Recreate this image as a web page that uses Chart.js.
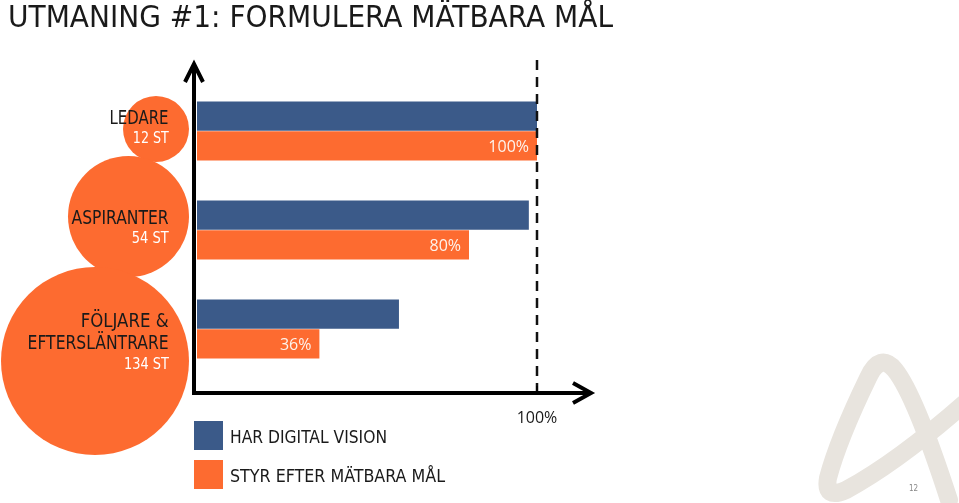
<!DOCTYPE html>
<html><head><meta charset="utf-8">
<script src="https://cdn.jsdelivr.net/npm/chart.js@4/dist/chart.umd.min.js"></script>
<style>
html,body{margin:0;padding:0;background:#fff;}
#wrap{position:relative;width:959px;height:503px;overflow:hidden;font-family:'DejaVu Sans Condensed','DejaVu Sans',sans-serif;}
#c{position:absolute;left:0;top:0;z-index:2;}
.circ{position:absolute;border-radius:50%;background:#fd6b30;z-index:1;}
.t{position:absolute;white-space:nowrap;z-index:3;line-height:1;}
.r{transform-origin:right center;text-align:right;}
.l{transform-origin:left center;}
.dark{color:#1a1a1a;}
.wh{color:#fff;}
.sq{position:absolute;width:29px;height:29px;z-index:3;}
</style></head><body>
<div id="wrap">
  <div class="circ" style="left:123px;top:96px;width:66px;height:66px"></div>
  <div class="circ" style="left:68px;top:156px;width:121px;height:121px"></div>
  <div class="circ" style="left:1px;top:267px;width:188px;height:188px"></div>
  <canvas id="c" width="959" height="503"></canvas>
</div>
<script>
const categories = ['LEDARE', 'ASPIRANTER', 'FÖLJARE & EFTERSLÄNTRARE'];
const categoryLines = [['LEDARE'], ['ASPIRANTER'], ['FÖLJARE &', 'EFTERSLÄNTRARE']];
const counts = ['12 ST', '54 ST', '134 ST'];
const seriesNames = ['HAR DIGITAL VISION', 'STYR EFTER MÄTBARA MÅL'];
const visionValues = [100, 97.6, 59.4];
const goalValues = [100, 80, 36];
const goalLabels = ['100%', '80%', '36%'];
const xTickLabels = ['100%'];
const xTickValues = [100];
const titleText = 'UTMANING #1: FORMULERA MÄTBARA MÅL';

const BLUE = '#3b5a89', ORANGE = '#fd6b30';
const wrap = document.getElementById('wrap');

function addText(txt, cls, x, y, size, targetW) {
  const d = document.createElement('div');
  d.className = 't ' + cls;
  d.textContent = txt;
  d.style.fontSize = size + 'px';
  wrap.appendChild(d);
  const w = d.getBoundingClientRect().width;
  const h = d.getBoundingClientRect().height;
  const s = targetW ? targetW / w : 1;
  if (cls.split(' ').includes('r')) {
    d.style.left = (x - w) + 'px';
  } else {
    d.style.left = x + 'px';
  }
  d.style.top = (y - h / 2) + 'px';
  d.style.transform = 'scaleX(' + s + ')';
  return d;
}

// Title
addText(titleText, 'l dark', 8, 17, 30, 605);

// Circle labels
const nameY = [[117], [217], [320, 342]];
const nameW = [[59], [97], [88, 141]];
const countY = [138, 238, 364];
const countW = [36, 37, 45];
categoryLines.forEach((lines, i) => {
  lines.forEach((ln, j) => addText(ln, 'r dark', 169, nameY[i][j], 19, nameW[i][j]));
  addText(counts[i], 'r wh', 169, countY[i], 16, countW[i]);
});

// Legend
const legColors = [BLUE, ORANGE];
const legY = [421, 460];
const legW = [157, 215];
seriesNames.forEach((n, i) => {
  const sq = document.createElement('div');
  sq.className = 'sq';
  sq.style.left = '194px'; sq.style.top = legY[i] + 'px'; sq.style.background = legColors[i];
  wrap.appendChild(sq);
  addText(n, 'l dark', 230, legY[i] + 16, 18, legW[i]);
});

// Page number
const pn = addText('12', 'l', 909, 489, 8, 0);
pn.style.color = '#888';

const decor = {
  id: 'decor',
  beforeDraw(chart) {
    const ctx = chart.ctx;
    ctx.save();
    ctx.strokeStyle = '#e8e4de';
    ctx.lineWidth = 18;
    ctx.lineCap = 'round';
    ctx.lineJoin = 'round';
    ctx.beginPath();
    ctx.moveTo(949, 500);
    ctx.quadraticCurveTo(915, 395, 895, 370);
    ctx.quadraticCurveTo(880, 352, 868, 378);
    ctx.quadraticCurveTo(838, 440, 828, 478);
    ctx.quadraticCurveTo(824, 500, 846, 490);
    ctx.quadraticCurveTo(905, 458, 985, 385);
    ctx.stroke();
    ctx.restore();
  },
  afterDatasetsDraw(chart) {
    const ctx = chart.ctx;
    const a = chart.chartArea;
    const xs = chart.scales.x;
    const ax = a.left - 3;
    const ay = a.bottom + 14.5;
    ctx.save();
    // dashed reference line
    const x100 = xs.getPixelForValue(100);
    ctx.strokeStyle = '#111';
    ctx.lineWidth = 2.5;
    ctx.setLineDash([10, 7]);
    ctx.beginPath();
    ctx.moveTo(x100, 60);
    ctx.lineTo(x100, ay);
    ctx.stroke();
    ctx.setLineDash([]);
    // data labels
    const meta = chart.getDatasetMeta(1);
    ctx.fillStyle = '#fdf3ec';
    ctx.font = '16px "Open Sans", "Liberation Sans", sans-serif';
    ctx.textAlign = 'right';
    ctx.textBaseline = 'middle';
    meta.data.forEach((bar, i) => {
      ctx.fillText(goalLabels[i], bar.x - 8, bar.y + 1.5);
    });
    // axes
    ctx.strokeStyle = '#000';
    ctx.lineWidth = 4;
    ctx.beginPath();
    ctx.moveTo(ax, ay + 2);
    ctx.lineTo(ax, 64);
    ctx.moveTo(ax - 2, ay);
    ctx.lineTo(590, ay);
    ctx.stroke();
    ctx.lineJoin = 'miter';
    ctx.beginPath();
    ctx.moveTo(ax - 9, 82);
    ctx.lineTo(ax, 64);
    ctx.lineTo(ax + 9, 82);
    ctx.moveTo(573, ay - 10);
    ctx.lineTo(591, ay);
    ctx.lineTo(573, ay + 10);
    ctx.stroke();
    // ticks
    ctx.lineWidth = 1.5;
    ctx.fillStyle = '#1a1a1a';
    ctx.font = '16px "Open Sans", "Liberation Sans", sans-serif';
    ctx.textAlign = 'center';
    ctx.textBaseline = 'middle';
    xTickValues.forEach((v, i) => {
      const px = xs.getPixelForValue(v);
      ctx.beginPath();
      ctx.moveTo(px, ay - 7);
      ctx.lineTo(px, ay);
      ctx.stroke();
      ctx.fillText(xTickLabels[i], px, ay + 25);
    });
    ctx.restore();
  }
};

new Chart(document.getElementById('c'), {
  type: 'bar',
  data: {
    labels: categories,
    datasets: [
      { label: seriesNames[0], data: visionValues, backgroundColor: BLUE },
      { label: seriesNames[1], data: goalValues, backgroundColor: ORANGE }
    ]
  },
  options: {
    indexAxis: 'y',
    responsive: false,
    animation: false,
    devicePixelRatio: 1,
    categoryPercentage: 0.6,
    barPercentage: 0.98,
    layout: { padding: { left: 197, right: 367.6, top: 81.5, bottom: 124.5 } },
    scales: {
      x: { display: false, min: 0, max: 116 },
      y: { display: false }
    },
    plugins: { legend: { display: false }, tooltip: { enabled: false } }
  },
  plugins: [decor]
});
</script>
</body></html>
